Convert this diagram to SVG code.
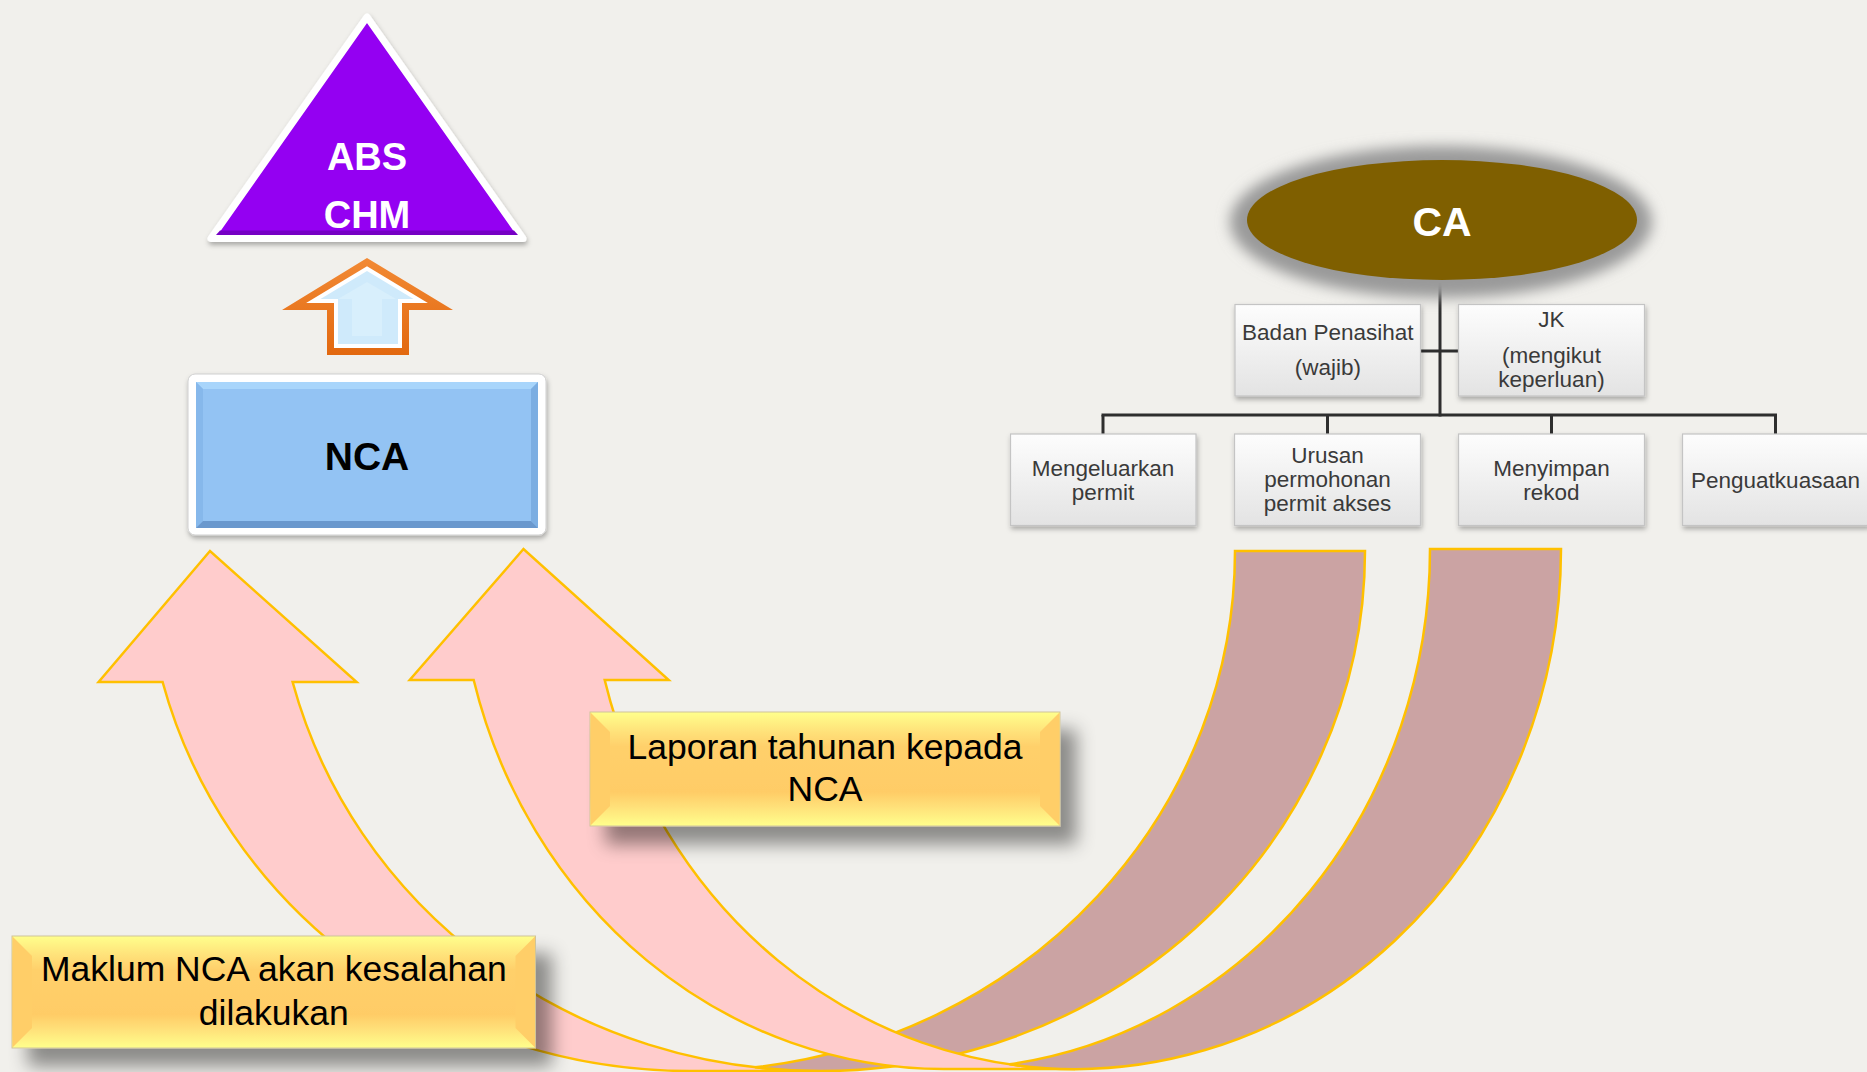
<svg xmlns="http://www.w3.org/2000/svg" width="1867" height="1072" viewBox="0 0 1867 1072">
<defs>
<style>
.t-org{font-family:"Liberation Sans",Arial,sans-serif;font-size:22.5px;fill:#3A3A3A;text-anchor:middle}
.t-lbl{font-family:"Liberation Sans",Arial,sans-serif;font-size:35.5px;fill:#000;text-anchor:middle}
.t-big{font-family:"Liberation Sans",Arial,sans-serif;font-weight:bold;text-anchor:middle}
.ob{fill:url(#gOrg);stroke:#C4C4C4;stroke-width:1.2}
.conn{stroke:#2E2E2E;stroke-width:3;fill:none}
.pink{fill:#FFCCCC}
.dark{fill:#CBA3A3}
.edge{fill:none;stroke:#FFC000;stroke-width:2.5;stroke-linejoin:miter}
.ybox{fill:url(#gYel);stroke:#CFC49A;stroke-width:1}
.yside{fill:#FFCE68}
</style>
<linearGradient id="gOrg" x1="0" y1="0" x2="0" y2="1">
<stop offset="0" stop-color="#FDFDFD"/><stop offset="1" stop-color="#E3E3E3"/>
</linearGradient>
<linearGradient id="gYel" x1="0" y1="0" x2="0" y2="1">
<stop offset="0" stop-color="#FFFF8C"/><stop offset="0.17" stop-color="#FFE27A"/><stop offset="0.3" stop-color="#FFD06B"/><stop offset="0.7" stop-color="#FFCC66"/><stop offset="0.83" stop-color="#FFE079"/><stop offset="1" stop-color="#FFFF8C"/>
</linearGradient>
<linearGradient id="gOra" x1="0" y1="0" x2="0" y2="1">
<stop offset="0" stop-color="#F28A35"/><stop offset="1" stop-color="#E2680F"/>
</linearGradient>
<filter id="fShadow" x="-10%" y="-20%" width="135%" height="170%">
<feGaussianBlur in="SourceAlpha" stdDeviation="9"/>
<feOffset dx="16" dy="18" result="b"/>
<feFlood flood-color="#000" flood-opacity="0.42"/>
<feComposite in2="b" operator="in"/>
<feMerge><feMergeNode/><feMergeNode in="SourceGraphic"/></feMerge>
</filter>
<filter id="fSmall" x="-10%" y="-10%" width="120%" height="130%">
<feGaussianBlur in="SourceAlpha" stdDeviation="2.5"/>
<feOffset dx="1" dy="3" result="b"/>
<feFlood flood-color="#000" flood-opacity="0.3"/>
<feComposite in2="b" operator="in"/>
<feMerge><feMergeNode/><feMergeNode in="SourceGraphic"/></feMerge>
</filter>
<filter id="fBlur" x="-20%" y="-40%" width="140%" height="180%">
<feGaussianBlur stdDeviation="7"/>
</filter>
</defs>

<rect x="0" y="0" width="1867" height="1072" fill="#F1F0EC"/>

<g id="curved-arrows">
<g id="curved-arrow-left">
<path id="pinkA" class="pink" d="M162.6 682 L98.6 682 L210 551 L356.6 682 L292.6 682 A545 520 0 0 0 820 1071 L690 1071 A545 520 0 0 1 162.6 682 Z"/>
<path id="darkA" class="dark" d="M1235 551 L1365 551 A545 520 0 0 1 755 1067.3 A545 520 0 0 0 1235 551 Z"/>
<use href="#pinkA" class="edge"/>
<use href="#darkA" class="edge"/>
</g>
<g id="curved-arrow-right">
<path id="pinkB" class="pink" d="M473.7 680 L409.7 680 L523.5 549 L668.7 680 L604.7 680 A486 520 0 0 0 1075 1069 L944 1069 A486 520 0 0 1 473.7 680 Z"/>
<path id="darkB" class="dark" d="M1430 549 L1561 549 A486 520 0 0 1 1009.5 1064.3 A486 520 0 0 0 1430 549 Z"/>
<use href="#pinkB" class="edge"/>
<use href="#darkB" class="edge"/>
</g>
</g>

<g id="connectors">
<line class="conn" x1="1440" y1="280" x2="1440" y2="416.5"/>
<line class="conn" x1="1420.6" y1="351" x2="1458.3" y2="351"/>
<line class="conn" x1="1101.5" y1="415" x2="1777" y2="415"/>
<line class="conn" x1="1103" y1="415" x2="1103" y2="434"/>
<line class="conn" x1="1327.5" y1="415" x2="1327.5" y2="434"/>
<line class="conn" x1="1551.5" y1="415" x2="1551.5" y2="434"/>
<line class="conn" x1="1775.5" y1="415" x2="1775.5" y2="434"/>
</g>

<g id="abs-chm">
<g filter="url(#fSmall)">
<polygon points="367,17 211,238.5 523,238.5" fill="#9400F2" stroke="#FFFFFF" stroke-width="7" stroke-linejoin="round"/>
</g>
<polygon points="216,235 518,235 514,230.5 220,230.5" fill="#7600C4"/>
<text class="t-big" x="367" y="170" font-size="38" fill="#FFFFFF">ABS</text>
<text class="t-big" x="367" y="228" font-size="38" fill="#FFFFFF">CHM</text>
</g>

<g id="up-arrow">
<polygon points="367,258 453,310 409,310 409,355 327,355 327,310 282,310" fill="url(#gOra)"/>
<polygon points="367,266.2 427.9,303 402,303 402,348 334,348 334,303 306.1,303" fill="#FFFFFF"/>
<polygon points="367,270.9 413.5,299 398,299 398,344 338,344 338,299 320.5,299" fill="#CFEAFB"/>
<polygon points="367,282 396,299 382,299 382,336 352,336 352,299 338,299" fill="#D8EFFC"/>
</g>

<g id="nca">
<rect x="188" y="374" width="358" height="161" rx="7" fill="#FFFFFF" stroke="#CFCFCF" stroke-width="1" filter="url(#fSmall)"/>
<rect x="196" y="382" width="342" height="146" fill="#93C3F3"/>
<polygon points="196,382 538,382 531,389 203,389" fill="#A8D5FB"/>
<polygon points="196,382 203,389 203,521 196,528" fill="#86B8EB"/>
<polygon points="538,382 538,528 531,521 531,389" fill="#7CAEE2"/>
<polygon points="196,528 203,521 531,521 538,528" fill="#6A98CD"/>
<text class="t-big" x="367" y="470" font-size="39" fill="#000000">NCA</text>
</g>

<g id="ca">
<ellipse cx="1441" cy="222" rx="211" ry="76" fill="#9A9A9A" filter="url(#fBlur)"/>
<ellipse cx="1442" cy="220" rx="195" ry="60" fill="#7F5F00"/>
<text class="t-big" x="1442" y="236" font-size="41" fill="#FFFFFF">CA</text>
</g>

<g id="badan-penasihat">
<rect class="ob" x="1235" y="304.5" width="185.5" height="91.5" filter="url(#fSmall)"/>
<text class="t-org" x="1327.8" y="340">Badan Penasihat</text>
<text class="t-org" x="1327.8" y="375">(wajib)</text>
</g>

<g id="jk">
<rect class="ob" x="1458.5" y="304.5" width="186" height="91.5" filter="url(#fSmall)"/>
<text class="t-org" x="1551.5" y="327">JK</text>
<text class="t-org" x="1551.5" y="363">(mengikut</text>
<text class="t-org" x="1551.5" y="387">keperluan)</text>
</g>

<g id="mengeluarkan-permit">
<rect class="ob" x="1010.5" y="434" width="185.5" height="91.5" filter="url(#fSmall)"/>
<text class="t-org" x="1103" y="476">Mengeluarkan</text>
<text class="t-org" x="1103" y="500">permit</text>
</g>

<g id="urusan-permohonan">
<rect class="ob" x="1234.5" y="434" width="186" height="91.5" filter="url(#fSmall)"/>
<text class="t-org" x="1327.5" y="463">Urusan</text>
<text class="t-org" x="1327.5" y="487">permohonan</text>
<text class="t-org" x="1327.5" y="511">permit akses</text>
</g>

<g id="menyimpan-rekod">
<rect class="ob" x="1458.5" y="434" width="186" height="91.5" filter="url(#fSmall)"/>
<text class="t-org" x="1551.5" y="476">Menyimpan</text>
<text class="t-org" x="1551.5" y="500">rekod</text>
</g>

<g id="penguatkuasaan">
<rect class="ob" x="1682.5" y="434" width="186" height="91.5" filter="url(#fSmall)"/>
<text class="t-org" x="1775.5" y="488">Penguatkuasaan</text>
</g>

<g id="laporan-tahunan">
<g filter="url(#fShadow)">
<rect class="ybox" x="590" y="712" width="470" height="114"/>
<polygon class="yside" points="590.5,712.5 610,732 610,806 590.5,825.5"/>
<polygon class="yside" points="1059.5,712.5 1040,732 1040,806 1059.5,825.5"/>
</g>
<text class="t-lbl" x="825" y="759">Laporan tahunan kepada</text>
<text class="t-lbl" x="825" y="801">NCA</text>
</g>

<g id="maklum-nca">
<g filter="url(#fShadow)">
<rect class="ybox" x="12" y="936" width="523.5" height="112"/>
<polygon class="yside" points="12.5,936.5 32,956 32,1028 12.5,1047.5"/>
<polygon class="yside" points="535,936.5 515.5,956 515.5,1028 535,1047.5"/>
</g>
<text class="t-lbl" x="273.8" y="981">Maklum NCA akan kesalahan</text>
<text class="t-lbl" x="273.8" y="1025">dilakukan</text>
</g>
</svg>
